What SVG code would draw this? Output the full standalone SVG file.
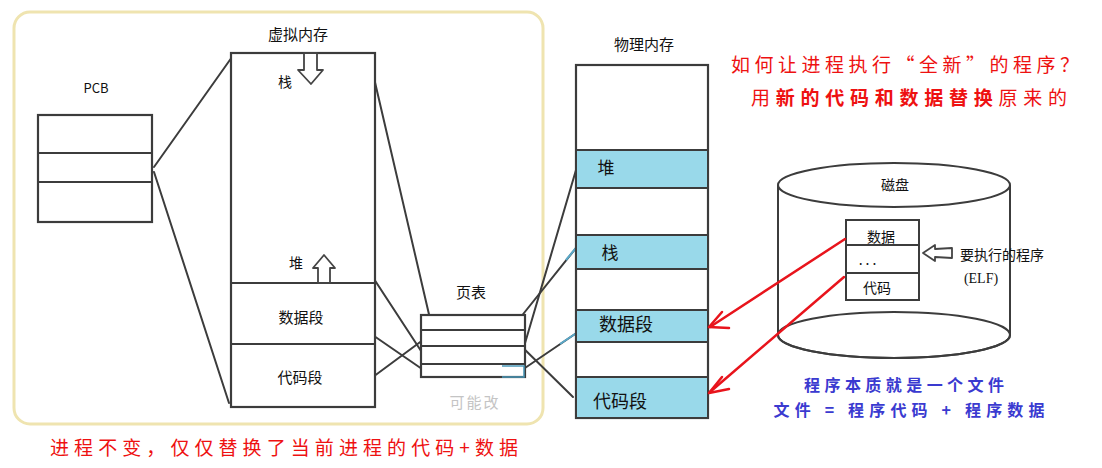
<svg xmlns="http://www.w3.org/2000/svg" width="1102" height="468" viewBox="0 0 1102 468">
<defs>
<style>
.ln{stroke:#3c3c3c;stroke-width:2;fill:none;stroke-linecap:round}
.bx{stroke:#3c3c3c;stroke-width:2.2;fill:#fff}
.band{fill:#99d9ea}
.t{font-family:"Noto Sans CJK SC","Noto Sans",sans-serif;fill:#111;text-anchor:middle}
.red{font-family:"Noto Sans CJK SC",sans-serif;fill:#ee1111;text-anchor:middle;font-size:19px}
.blue{font-family:"Noto Sans CJK SC",sans-serif;fill:#3a3ad0;text-anchor:middle;font-size:16px;font-weight:bold}
.arr{stroke:#e8141c;stroke-width:2.5;fill:none;stroke-linecap:round;stroke-linejoin:round}
.hol{fill:#fff;stroke:#444;stroke-width:1.8;stroke-linejoin:round}
</style>
</defs>
<rect x="14" y="12" width="529" height="412" rx="16" fill="none" stroke="#efe4b0" stroke-width="3"/>

<g id="connectors">
<line class="ln" x1="154" y1="167" x2="232" y2="57"/>
<line class="ln" x1="154" y1="172" x2="229" y2="403"/>
<line class="ln" x1="374" y1="78" x2="431" y2="323"/>
<line class="ln" x1="357" y1="253" x2="425" y2="357"/>
<line class="ln" x1="361" y1="327" x2="422" y2="369"/>
<line class="ln" x1="358" y1="388" x2="427" y2="337"/>
<line class="ln" x1="576" y1="170" x2="523" y2="350"/>
<line class="ln" x1="580" y1="243" x2="516" y2="323"/>
<line class="ln" x1="578" y1="332" x2="522" y2="370"/>
<line class="ln" x1="513" y1="338" x2="573" y2="397"/>
<line x1="560" y1="344" x2="578" y2="332" stroke="#5aa8c8" stroke-width="2"/>
<line x1="566" y1="260" x2="580" y2="243" stroke="#5aa8c8" stroke-width="2"/>
</g>

<g id="pcb">
<text class="t" x="96" y="93" font-size="13">PCB</text>
<rect class="bx" x="38" y="115" width="114" height="107"/>
<line class="ln" x1="38" y1="153" x2="152" y2="153"/>
<line class="ln" x1="38" y1="182" x2="152" y2="182"/>
</g>

<g id="vmem">
<text class="t" x="298" y="40" font-size="15">虚拟内存</text>
<rect class="bx" x="231" y="53" width="144" height="354"/>
<line class="ln" x1="231" y1="283" x2="375" y2="283"/>
<line class="ln" x1="231" y1="344" x2="375" y2="344"/>
<text class="t" x="285" y="87" font-size="14">栈</text>
<path class="hol" d="M304 53 L317 53 L317 70 L323 70 L311 84 L298 70 L304 70 Z"/>
<text class="t" x="296" y="268" font-size="14">堆</text>
<path class="hol" d="M318 283 L330 283 L330 268 L335 268 L324 255 L313 268 L318 268 Z"/>
<text class="t" x="301" y="323" font-size="15">数据段</text>
<text class="t" x="300" y="383" font-size="15">代码段</text>
</g>

<g id="pagetable">
<text class="t" x="471" y="298" font-size="15">页表</text>
<rect class="bx" x="421" y="315" width="104" height="62" fill="none"/>
<line class="ln" x1="421" y1="330" x2="525" y2="330"/>
<line class="ln" x1="421" y1="346" x2="525" y2="346"/>
<line class="ln" x1="421" y1="364" x2="525" y2="364"/>
<path d="M502 366 L524 366 L524 377 L502 377" fill="none" stroke="#4a98b8" stroke-width="1.5"/>
<text x="475" y="408" font-family="Noto Sans CJK SC,sans-serif" font-size="15" fill="#c4c4c4" text-anchor="middle" letter-spacing="2">可能改</text>
</g>

<g id="physmem">
<text class="t" x="644" y="50" font-size="15">物理内存</text>
<rect class="bx" x="576" y="65" width="132" height="353"/>
<rect class="band" x="577" y="150" width="130" height="38"/>
<rect class="band" x="577" y="235" width="130" height="34"/>
<rect class="band" x="577" y="310" width="130" height="32"/>
<rect class="band" x="577" y="377" width="130" height="40"/>
<line class="ln" x1="576" y1="150" x2="708" y2="150"/>
<line class="ln" x1="576" y1="188" x2="708" y2="188"/>
<line class="ln" x1="576" y1="235" x2="708" y2="235"/>
<line class="ln" x1="576" y1="269" x2="708" y2="269"/>
<line class="ln" x1="576" y1="310" x2="708" y2="310"/>
<line class="ln" x1="576" y1="342" x2="708" y2="342"/>
<line class="ln" x1="576" y1="377" x2="708" y2="377"/>
<text class="t" x="606" y="174" font-size="17">堆</text>
<text class="t" x="610" y="259" font-size="17">栈</text>
<text class="t" x="626" y="331" font-size="18">数据段</text>
<text class="t" x="620" y="408" font-size="18">代码段</text>
</g>

<g id="disk">
<path d="M778 185 L778 335 A116 23 0 0 0 1010 335 L1010 185" fill="#fff" stroke="#3c3c3c" stroke-width="2"/>
<ellipse cx="894" cy="335" rx="116" ry="23" fill="none" stroke="#3c3c3c" stroke-width="2"/>
<ellipse cx="894" cy="185" rx="116" ry="22" fill="#fff" stroke="#3c3c3c" stroke-width="2"/>
<text class="t" x="895" y="190" font-size="14">磁盘</text>
<rect x="846" y="220" width="73" height="80" fill="#fff" stroke="#3c3c3c" stroke-width="2"/>
<line class="ln" x1="846" y1="245" x2="919" y2="245"/>
<line class="ln" x1="846" y1="273" x2="919" y2="273"/>
<text class="t" x="881" y="242" font-size="14">数据</text>
<text class="t" x="869" y="265" font-size="14" letter-spacing="3">...</text>
<text class="t" x="877" y="293" font-size="14">代码</text>
</g>

<g id="elf">
<path class="hol" d="M923 253 L935 245 L935 249 L952 248 L952 258 L935 257 L935 261 Z"/>
<text x="960" y="260" font-family="Noto Sans CJK SC,sans-serif" font-size="14" fill="#111">要执行的程序</text>
<text x="981" y="283" font-family="Liberation Serif,serif" font-size="14" fill="#111" text-anchor="middle">(ELF)</text>
</g>

<g id="red-arrows">
<line class="arr" x1="845" y1="239" x2="710" y2="327"/>
<polyline class="arr" points="722,312 709,327 729,328"/>
<line class="arr" x1="844" y1="277" x2="710" y2="392"/>
<polyline class="arr" points="722,377 709,393 729,389"/>
</g>

<g id="notes">
<text class="red" x="905" y="72" textLength="348" lengthAdjust="spacing">如何让进程执行“全新”的程序？</text>
<text class="red" x="909" y="105" textLength="316" lengthAdjust="spacing">用<tspan font-weight="bold">新的代码和数据替换</tspan>原来的</text>
<text class="red" x="284" y="455" textLength="468" lengthAdjust="spacing">进程不变，仅仅替换了当前进程的代码+数据</text>
<text class="blue" x="904" y="391" textLength="200" lengthAdjust="spacing">程序本质就是一个文件</text>
<text class="blue" x="909" y="416" textLength="271" lengthAdjust="spacing">文件 = 程序代码 + 程序数据</text>
</g>
</svg>
